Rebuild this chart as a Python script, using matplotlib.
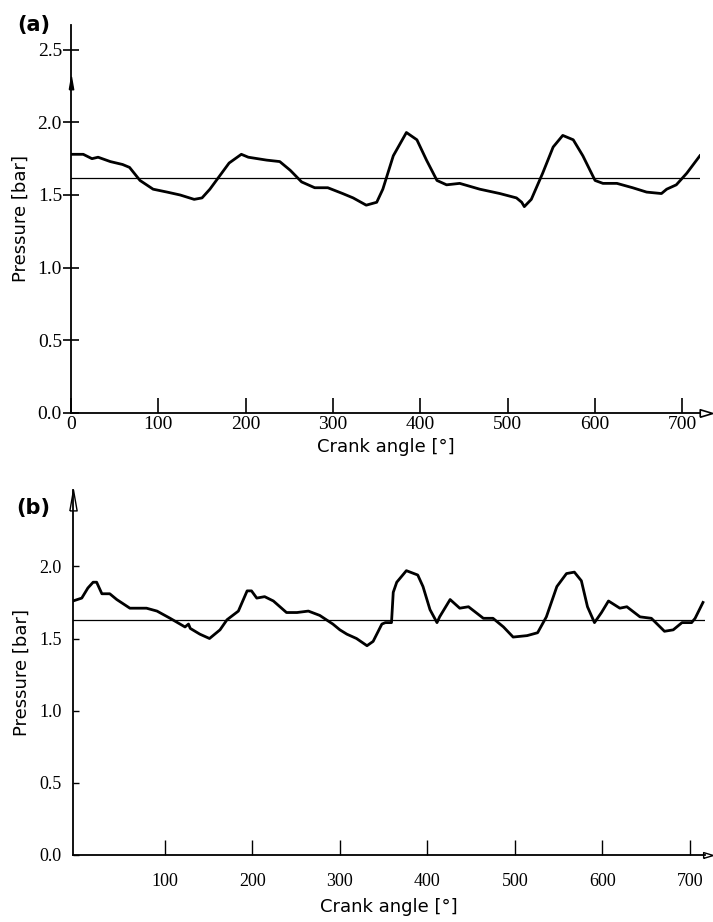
import matplotlib.pyplot as plt

plt.rcParams["font.family"] = "Liberation Serif"

# ---- panel (a): measured pressure trace ----
angle_a = [0, 14, 24, 31, 45, 59, 67, 79, 94, 110, 125, 141, 150, 159, 170,
           181, 195, 203, 224, 239, 251, 264, 279, 294, 311, 323, 338, 350,
           357, 369, 384, 396, 407, 419, 430, 445, 468, 491, 510, 516, 519,
           527, 540, 552, 563, 575, 586, 600, 609, 625, 643, 659, 676, 682,
           693, 705, 720]
pressure_a = [1.78, 1.78, 1.75, 1.76, 1.73, 1.71, 1.69, 1.60, 1.54, 1.52,
              1.50, 1.47, 1.48, 1.54, 1.63, 1.72, 1.78, 1.76, 1.74, 1.73,
              1.67, 1.59, 1.55, 1.55, 1.51, 1.48, 1.43, 1.45, 1.54, 1.77,
              1.93, 1.88, 1.74, 1.60, 1.57, 1.58, 1.54, 1.51, 1.48, 1.45,
              1.42, 1.47, 1.65, 1.83, 1.91, 1.88, 1.77, 1.60, 1.58, 1.58,
              1.55, 1.52, 1.51, 1.54, 1.57, 1.65, 1.77]
mean_a = 1.62

# ---- panel (b): simulated pressure trace ----
angle_b = [-5, 5, 12, 18, 22, 28, 37, 45, 60, 79, 91, 106, 123, 127, 129,
           140, 151, 163, 171, 184, 194, 199, 205, 214, 224, 239, 251, 264,
           277, 292, 300, 308, 319, 331, 338, 348, 352, 359, 361, 365, 376,
           389, 395, 403, 411, 414, 426, 437, 447, 464, 475, 487, 498, 514,
           526, 536, 548, 559, 568, 576, 583, 591, 599, 607, 620, 628, 643,
           656, 671, 681, 691, 702, 706, 715]
pressure_b = [1.76, 1.78, 1.85, 1.89, 1.89, 1.81, 1.81, 1.77, 1.71, 1.71,
              1.69, 1.64, 1.58, 1.60, 1.57, 1.53, 1.50, 1.56, 1.63, 1.69,
              1.83, 1.83, 1.78, 1.79, 1.76, 1.68, 1.68, 1.69, 1.66, 1.60,
              1.56, 1.53, 1.50, 1.45, 1.48, 1.60, 1.61, 1.61, 1.82, 1.89,
              1.97, 1.94, 1.86, 1.70, 1.61, 1.65, 1.77, 1.71, 1.72, 1.64,
              1.64, 1.58, 1.51, 1.52, 1.54, 1.65, 1.86, 1.95, 1.96, 1.90,
              1.72, 1.61, 1.68, 1.76, 1.71, 1.72, 1.65, 1.64, 1.55, 1.56,
              1.61, 1.61, 1.64, 1.75]
mean_b = 1.63

yticks_a = [0.0, 0.5, 1.0, 1.5, 2.0, 2.5]
xticks_a = [0, 100, 200, 300, 400, 500, 600, 700]
yticks_b = [0.0, 0.5, 1.0, 1.5, 2.0]
xticks_b = [100, 200, 300, 400, 500, 600, 700]

fig = plt.figure(figsize=(7.13, 9.22), dpi=100)
ax_a = fig.add_axes([0.0996, 0.5521, 0.882, 0.4208])
ax_b = fig.add_axes([0.1024, 0.0727, 0.886, 0.396])

label_font = dict(family="DejaVu Sans", fontsize=13)
arrow_up = [(-0.35, -1), (0, 1), (0.35, -1), (-0.35, -1)]
arrow_right = [(-1, -0.6), (1, 0), (-1, 0.6), (-1, -0.6)]

for ax in (ax_a, ax_b):
    for side in ("top", "right"):
        ax.spines[side].set_visible(False)
    for side in ("left", "bottom"):
        ax.spines[side].set_linewidth(1.3)
    ax.set_ylabel("Pressure [bar]", labelpad=6, **label_font)

# panel (a)
ax_a.plot(angle_a, pressure_a, color="black", linewidth=2.0,
          solid_joinstyle="round")
ax_a.axhline(mean_a, color="black", linewidth=0.9)
ax_a.set_xlim(0, 720)
ax_a.set_ylim(0, 2.67)
ax_a.set_xticks(xticks_a)
ax_a.set_yticks(yticks_a)
ax_a.set_yticklabels([f"{v:.1f}" for v in yticks_a])
ax_a.tick_params(axis="y", direction="inout", length=11, width=1.2,
                 labelsize=14, pad=1)
ax_a.tick_params(axis="x", direction="in", length=11, width=1.2,
                 labelsize=14, pad=2)
ax_a.set_xlabel("Crank angle [°]", labelpad=4, **label_font)
ax_a.plot([727], [0], marker=arrow_right, markersize=9, markerfacecolor="white",
          markeredgecolor="black", markeredgewidth=1.2, clip_on=False)
ax_a.plot([0], [2.27], marker=arrow_up, markersize=9, color="black",
          clip_on=False)
ax_a.text(-0.085, 1.0, "(a)", transform=ax_a.transAxes, family="DejaVu Sans",
          fontsize=15, fontweight="bold", ha="left", va="center")

# panel (b)
ax_b.plot(angle_b, pressure_b, color="black", linewidth=2.0,
          solid_joinstyle="round")
ax_b.axhline(mean_b, color="black", linewidth=0.9)
ax_b.set_xlim(-5, 717)
ax_b.set_ylim(0, 2.53)
ax_b.set_xticks(xticks_b)
ax_b.set_yticks(yticks_b)
ax_b.set_yticklabels([f"{v:.1f}" for v in yticks_b])
ax_b.tick_params(axis="y", direction="in", length=4, width=1.0,
                 labelsize=13, pad=8)
ax_b.tick_params(axis="x", direction="in", length=11, width=1.0,
                 labelsize=13, pad=13)
ax_b.set_xlabel("Crank angle [°]", labelpad=6, **label_font)
ax_b.plot([721], [0], marker=arrow_right, markersize=7, markerfacecolor="white",
          markeredgecolor="black", markeredgewidth=1.0, clip_on=False)
ax_b.plot([-5], [2.46], marker=arrow_up, markersize=15, markerfacecolor="white",
          markeredgecolor="black", markeredgewidth=1.0, clip_on=False)
ax_b.text(-0.09, 0.95, "(b)", transform=ax_b.transAxes, family="DejaVu Sans",
          fontsize=15, fontweight="bold", ha="left", va="center")

fig.savefig("out.png", dpi=100)
